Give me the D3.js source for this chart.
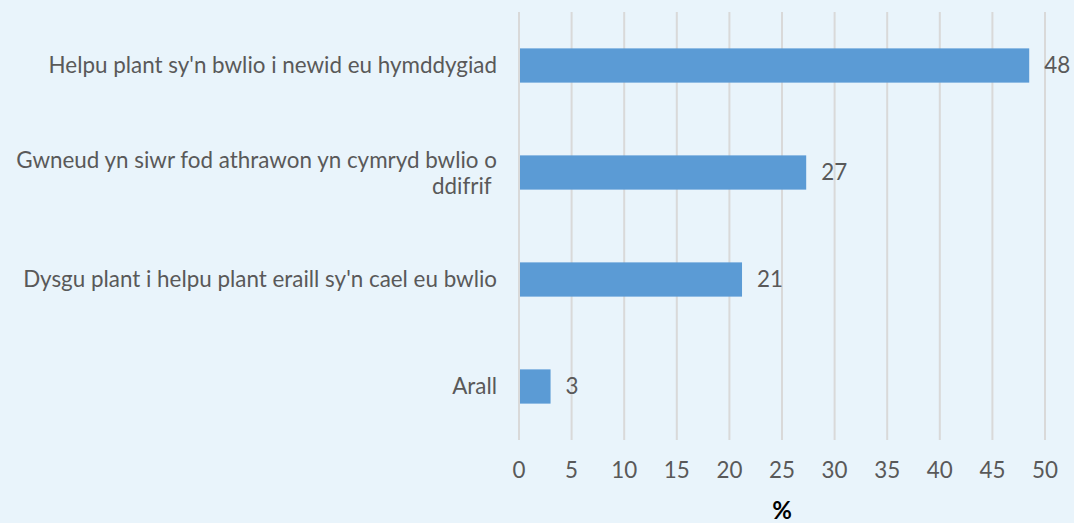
<!DOCTYPE html>
<html>
<head>
<meta charset="utf-8">
<script src="https://cdn.jsdelivr.net/npm/d3@7"></script>
<style>
  body { margin: 0; background: #e9f4fb; }
  svg { display: block; font-family: Lato, "Open Sans", sans-serif; }
  .grid line { stroke: #d9d9d9; stroke-width: 2; }
  .lbl { fill: #595959; font-size: 22.4px; }
</style>
</head>
<body>
<div id="chart"></div>
<script>
// data
var categories = [
  ["Helpu plant sy'n bwlio i newid eu hymddygiad"],
  ["Gwneud yn siwr fod athrawon yn cymryd bwlio o", "ddifrif\u00a0"],
  ["Dysgu plant i helpu plant eraill sy'n cael eu bwlio"],
  ["Arall"]
];
var values = [48.5, 27.3, 21.2, 3];
var valueLabels = ["48", "27", "21", "3"];
var ticks = [0, 5, 10, 15, 20, 25, 30, 35, 40, 45, 50];

var W = 1074, H = 523;
var margin = {left: 519, right: 29, top: 12, bottom: 83};

var svg = d3.select("#chart").append("svg").attr("width", W).attr("height", H);
svg.append("rect").attr("width", W).attr("height", H).attr("fill", "#e9f4fb");

var x = d3.scaleLinear().domain([0, 50]).range([margin.left, W - margin.right]);
var y = d3.scaleBand().domain(d3.range(values.length))
  .range([margin.top, H - margin.bottom]).paddingInner(0.68).paddingOuter(0.34);

// vertical gridlines
svg.append("g").attr("class", "grid")
  .selectAll("line").data(ticks).enter().append("line")
  .attr("x1", function(d) { return x(d); })
  .attr("x2", function(d) { return x(d); })
  .attr("y1", margin.top)
  .attr("y2", H - margin.bottom);

// bars
svg.selectAll("rect.bar").data(values).enter().append("rect")
  .attr("class", "bar")
  .attr("x", x(0) + 1)
  .attr("y", function(d, i) { return y(i); })
  .attr("width", function(d) { return x(d) - x(0) - 1; })
  .attr("height", y.bandwidth())
  .attr("fill", "#5b9bd5");

// value labels
svg.selectAll("text.val").data(values).enter().append("text")
  .attr("class", "lbl")
  .attr("x", function(d) { return x(d) + 15; })
  .attr("y", function(d, i) { return y(i) + y.bandwidth() / 2; })
  .attr("dy", "0.35em")
  .text(function(d, i) { return valueLabels[i]; });

// category labels (right aligned, some wrap on two lines)
categories.forEach(function(lines, i) {
  var cy = y(i) + y.bandwidth() / 2;
  var t = svg.append("text").attr("class", "lbl")
    .attr("text-anchor", "end")
    .attr("x", margin.left - 22)
    .attr("y", cy - (lines.length - 1) * 12.5)
    .attr("dy", "0.35em");
  lines.forEach(function(line, j) {
    t.append("tspan")
      .attr("x", margin.left - 22)
      .attr("dy", j == 0 ? "0.35em" : 26)
      .attr("xml:space", "preserve")
      .text(line);
  });
});

// x axis tick labels
svg.selectAll("text.tick").data(ticks).enter().append("text")
  .attr("class", "lbl")
  .attr("text-anchor", "middle")
  .attr("x", function(d) { return x(d); })
  .attr("y", 478)
  .text(function(d) { return d; });

// axis title
svg.append("text")
  .attr("x", (x(0) + x(50)) / 2)
  .attr("y", 519)
  .attr("text-anchor", "middle")
  .style("font-size", "24px")
  .style("font-weight", "bold")
  .attr("fill", "#000")
  .text("%");
</script>
</body>
</html>
